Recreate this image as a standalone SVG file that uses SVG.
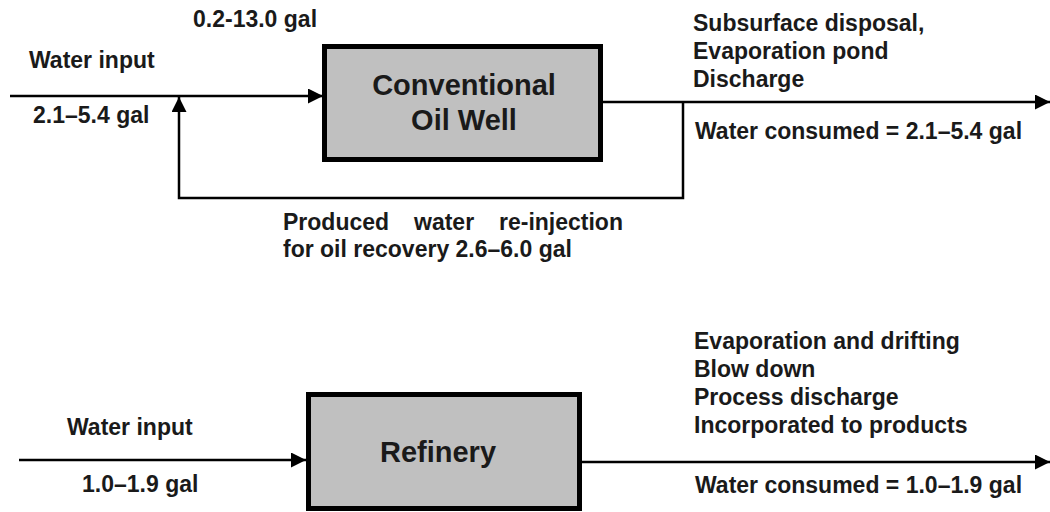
<svg xmlns="http://www.w3.org/2000/svg" width="1050" height="512" viewBox="0 0 1050 512">
<style>
.box{fill:#c0c0c0;stroke:#000;stroke-width:5}
.name{font-family:"Liberation Sans",Arial,sans-serif;font-weight:bold;font-size:29px;fill:#1a1a1a;text-anchor:middle}
.lbl{font-family:"Liberation Sans",Arial,sans-serif;font-weight:bold;font-size:23px;fill:#1a1a1a}
.ln{fill:none;stroke:#000;stroke-width:2.5}
</style>
<defs>
<marker id="ah" markerUnits="userSpaceOnUse" markerWidth="16" markerHeight="16" refX="15" refY="7.5" orient="auto">
<path d="M0,0 L15,7.5 L0,15 z" fill="#000"/>
</marker>
</defs>
<rect width="1050" height="512" fill="#fff"/>
<g id="connectors">
<path class="ln" d="M10,96 H323" marker-end="url(#ah)"/>
<path class="ln" d="M603,102 H1050" marker-end="url(#ah)"/>
<path class="ln" d="M683,102 V198 H179 V97" marker-end="url(#ah)"/>
<path class="ln" d="M19,460 H306" marker-end="url(#ah)"/>
<path class="ln" d="M582,462 H1050" marker-end="url(#ah)"/>
</g>
<g id="well">
<rect class="box" x="324.5" y="46.5" width="276" height="113"/>
<text class="name" x="464" y="95">Conventional</text>
<text class="name" x="464" y="130">Oil Well</text>
</g>
<g id="refinery">
<rect class="box" x="308.5" y="394.5" width="271" height="114"/>
<text class="name" x="438" y="462">Refinery</text>
</g>
<g id="labels">
<text class="lbl" x="193" y="26.5">0.2-13.0 gal</text>
<text class="lbl" x="29" y="68">Water input</text>
<text class="lbl" x="33" y="123">2.1–5.4 gal</text>
<text class="lbl" x="693" y="31">Subsurface disposal,</text>
<text class="lbl" x="693" y="59">Evaporation pond</text>
<text class="lbl" x="693" y="87">Discharge</text>
<text class="lbl" x="695" y="139">Water consumed = 2.1–5.4 gal</text>
<text class="lbl" y="230"><tspan x="283">Produced</tspan><tspan x="414">water</tspan><tspan x="499">re-injection</tspan></text>
<text class="lbl" x="283" y="257">for oil recovery 2.6–6.0 gal</text>
<text class="lbl" x="67" y="435">Water input</text>
<text class="lbl" x="82" y="492">1.0–1.9 gal</text>
<text class="lbl" x="694" y="349">Evaporation and drifting</text>
<text class="lbl" x="694" y="377">Blow down</text>
<text class="lbl" x="694" y="405">Process discharge</text>
<text class="lbl" x="694" y="433">Incorporated to products</text>
<text class="lbl" x="695" y="493">Water consumed = 1.0–1.9 gal</text>
</g>
</svg>
